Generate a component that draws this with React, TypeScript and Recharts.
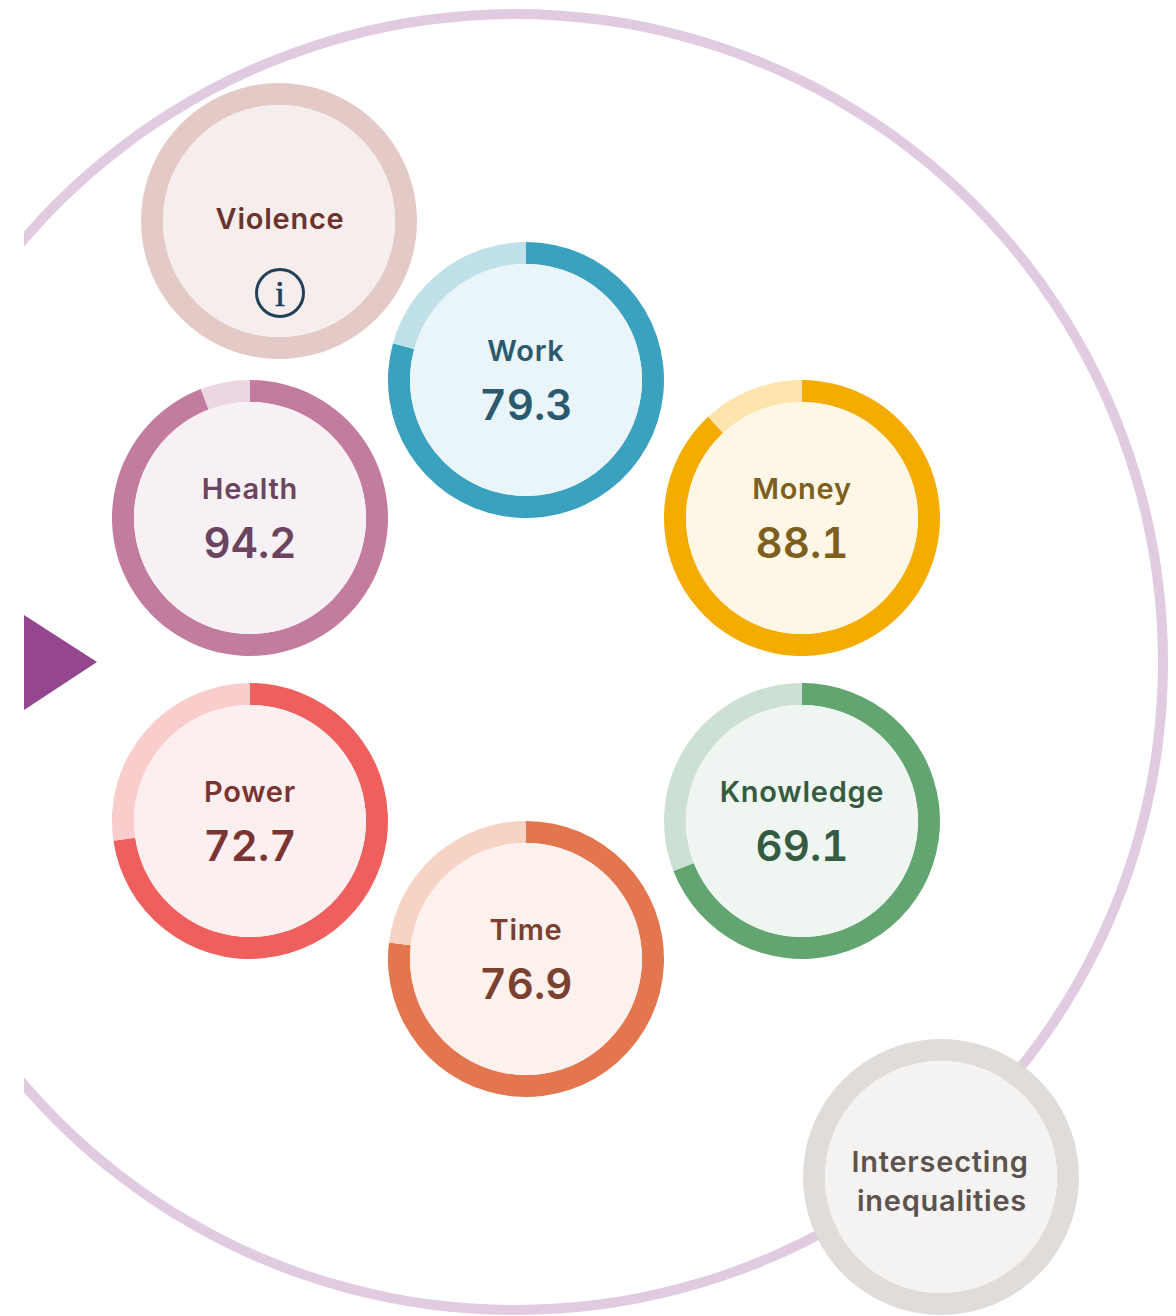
import { PieChart, Pie, Cell } from "recharts"

const domainNames = ["Work", "Money", "Knowledge", "Time", "Power", "Health"]
const domainScores = [79.3, 88.1, 69.1, 76.9, 72.7, 94.2]
const FULL_SCORE = 100

// picture coordinates of each dial, same order as domainNames
const domainCentres = [
  [526, 380],
  [802, 518],
  [802, 821],
  [526, 959],
  [250, 821],
  [250, 518],
]
const domainColors = [
  { main: "#3aa1bf", track: "#c0e1ea", face: "#e9f5f8", text: "#2b5a6e" },
  { main: "#f5ac00", track: "#fde4ad", face: "#fff7e6", text: "#7d6020" },
  { main: "#62a570", track: "#cce1d3", face: "#eff5f1", text: "#355c42" },
  { main: "#e3764e", track: "#f7d3c6", face: "#fcf1ed", text: "#7a4030" },
  { main: "#ee5f5d", track: "#f9cdcc", face: "#fdeff0", text: "#7a3533" },
  { main: "#c27c9e", track: "#ecd6e2", face: "#f7f1f5", text: "#6b4560" },
]

const OFFSET_X = 24 // the picture is cut off at this x
const OUTER = 138
const INNER = 116
const FONT = "Inter, 'Liberation Sans', sans-serif"
const LABEL_SPACING = 0.75

function dial(
  key: string,
  cx: number,
  cy: number,
  rows: { value: number; fill: string }[],
  face: string,
  content: (x: number) => React.ReactNode
) {
  const x = cx - OFFSET_X
  return [
    <Pie
      key={key + "-ring"}
      data={rows}
      dataKey="value"
      cx={x}
      cy={cy}
      innerRadius={INNER}
      outerRadius={OUTER}
      startAngle={90}
      endAngle={-270}
      stroke="none"
      isAnimationActive={false}
    >
      {rows.map((r, i) => (
        <Cell key={i} fill={r.fill} />
      ))}
    </Pie>,
    <Pie
      key={key + "-face"}
      data={[{ value: 1 }]}
      dataKey="value"
      cx={x}
      cy={cy}
      innerRadius={0}
      outerRadius={INNER}
      startAngle={90}
      endAngle={-270}
      fill={face}
      stroke="none"
      labelLine={false}
      label={() => <g key={key}>{content(x)}</g>}
      isAnimationActive={false}
    />,
  ]
}

export default function App() {
  return (
    <div style={{ position: "absolute", left: OFFSET_X, top: 0, width: 1152, height: 1316, background: "#fff" }}>
      <PieChart width={1152} height={1316} margin={{ top: 0, right: 0, bottom: 0, left: 0 }}>
        <Pie
          data={[{ value: 1 }]}
          dataKey="value"
          cx={515 - OFFSET_X}
          cy={662}
          innerRadius={643}
          outerRadius={653}
          startAngle={90}
          endAngle={-270}
          fill="#e0cbe0"
          stroke="none"
          isAnimationActive={false}
        />
        <polygon points={`0,615 ${97 - OFFSET_X},662 0,710`} fill="#94478f" />

        {dial("violence", 279, 221, [{ value: 1, fill: "#e3cac6" }], "#f5eeed", (x) => (
          <>
            <text x={x + 1} y={229} textAnchor="middle" fontFamily={FONT} fontSize={29} letterSpacing={LABEL_SPACING} fontWeight={600} fill="#6b332b">
              Violence
            </text>
            <circle cx={x + 1} cy={293} r={23.5} fill="none" stroke="#23405a" strokeWidth={3} />
            <text x={x + 1} y={306} textAnchor="middle" fontFamily="'Liberation Serif', serif" fontSize={36} stroke="#23405a" strokeWidth={0.7} fill="#23405a">
              i
            </text>
          </>
        ))}
        {dial("intersecting", 941, 1177, [{ value: 1, fill: "#e0dcd9" }], "#f4f3f2", (x) => (
          <g textAnchor="middle" fontFamily={FONT} fontSize={29} letterSpacing={LABEL_SPACING} fontWeight={600} fill="#5c5350">
            <text x={x - 1} y={1172}>Intersecting</text>
            <text x={x + 1} y={1211}>inequalities</text>
          </g>
        ))}
        {domainNames.map((name, i) =>
          dial(
            name,
            domainCentres[i][0],
            domainCentres[i][1],
            [
              { value: domainScores[i], fill: domainColors[i].main },
              { value: FULL_SCORE - domainScores[i], fill: domainColors[i].track },
            ],
            domainColors[i].face,
            (x) => (
              <g textAnchor="middle" fontFamily={FONT} fill={domainColors[i].text}>
                <text x={x} y={domainCentres[i][1] - 19} fontSize={29} letterSpacing={LABEL_SPACING} fontWeight={600}>
                  {name}
                </text>
                <text x={x} y={domainCentres[i][1] + 40} fontSize={42} fontWeight={600} style={{ fontVariantNumeric: "tabular-nums" }}>
                  {domainScores[i].toFixed(1)}
                </text>
              </g>
            )
          )
        )}
      </PieChart>
    </div>
  )
}
